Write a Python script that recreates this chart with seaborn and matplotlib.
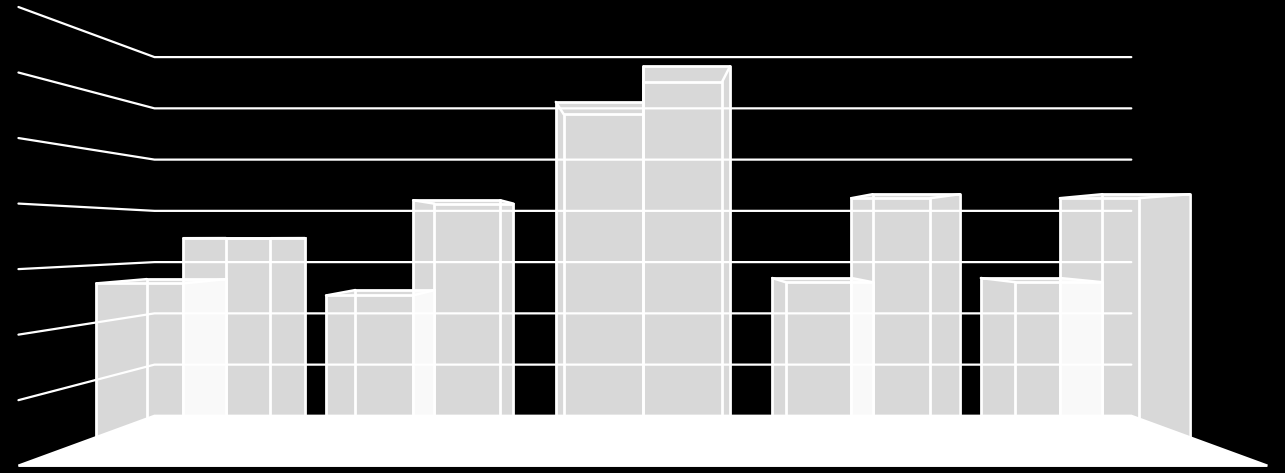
import pandas as pd
import seaborn as sns
import matplotlib.pyplot as plt

categories = ['A', 'B', 'C', 'D', 'E']
series_1 = [2.72, 2.52, 5.73, 2.74, 2.74]
series_2 = [3.47, 4.10, 6.32, 4.20, 4.20]
grid_values = [1, 2, 3, 4, 5, 6, 7]

# the chart is a 3d box seen in perspective, everything is scaled around
# the vanishing point. the bar back faces sit on the plain axes scale
VP_CAT = 2.0
VP_VAL = 3.49
WALL = 0.937     # back wall
NEAR = 1.102     # bar front faces
FRONT = 1.198    # front edge of the floor
WHITE = 'white'

df = pd.DataFrame({
    'category': categories * 2,
    'value': series_1 + series_2,
    'series': ['s1'] * 5 + ['s2'] * 5,
})


def persp(c, v, k):
    return VP_CAT + (c - VP_CAT) * k, VP_VAL + (v - VP_VAL) * k


def hull(points):
    pts = sorted(set(points))

    def half(seq):
        out = []
        for p in seq:
            while len(out) > 1 and ((out[-1][0] - out[-2][0]) * (p[1] - out[-2][1])
                                    - (out[-1][1] - out[-2][1]) * (p[0] - out[-2][0])) <= 0:
                out.pop()
            out.append(p)
        return out[:-1]

    return half(pts) + half(pts[::-1])


sns.set_theme(style='white')
fig, ax = plt.subplots(figsize=(12.85, 4.73), dpi=100)
ax.set_position([0, 0, 1, 1])
fig.patch.set_facecolor('black')
ax.set_facecolor('black')

# back faces
sns.barplot(data=df, x='category', y='value', hue='series', order=categories,
            width=0.758, fill=False, palette=[WHITE, WHITE], linewidth=2.0,
            legend=False, ax=ax)

for container in ax.containers:
    for bar in container:
        bar.set_zorder(3)
        x0, x1 = bar.get_x(), bar.get_x() + bar.get_width()
        top = bar.get_height()
        back = [(x0, 0), (x0, top), (x1, top), (x1, 0)]
        front = [persp(c, v, NEAR) for c, v in back]

        # see-through body, two bodies overlapping come out lighter
        ax.fill(*zip(*hull(back + front)), color=WHITE, alpha=0.85, lw=0, zorder=2)

        xs, ys = zip(*(front + front[:1]))
        ax.plot(xs, ys, color=WHITE, lw=2.0, zorder=3)
        for b, f in zip(back[1:3], front[1:3]):
            ax.plot([b[0], f[0]], [b[1], f[1]], color=WHITE, lw=1.8, zorder=3)

# gridlines on back and left wall
for v in grid_values:
    outer = persp(-0.5, v, FRONT)
    left = persp(-0.5, v, WALL)
    right = persp(4.5, v, WALL)
    ax.plot([outer[0], left[0], right[0]], [outer[1], left[1], right[1]],
            color=WHITE, lw=1.6, zorder=4, solid_joinstyle='round')

# floor goes over the bottom of the bars
floor = [persp(-0.5, 0, WALL), persp(4.5, 0, WALL), persp(4.5, 0, FRONT), persp(-0.5, 0, FRONT)]
ax.fill(*zip(*floor), facecolor=WHITE, edgecolor=WHITE, lw=1.8, zorder=5)

ax.set_xlim(VP_CAT - 642.9 / 208.5, VP_CAT + 642.1 / 208.5)
ax.set_ylim(VP_VAL - 236 / 54.7, VP_VAL + 237 / 54.7)
ax.set_axis_off()

fig.savefig('out.png', dpi=100, facecolor='black')
